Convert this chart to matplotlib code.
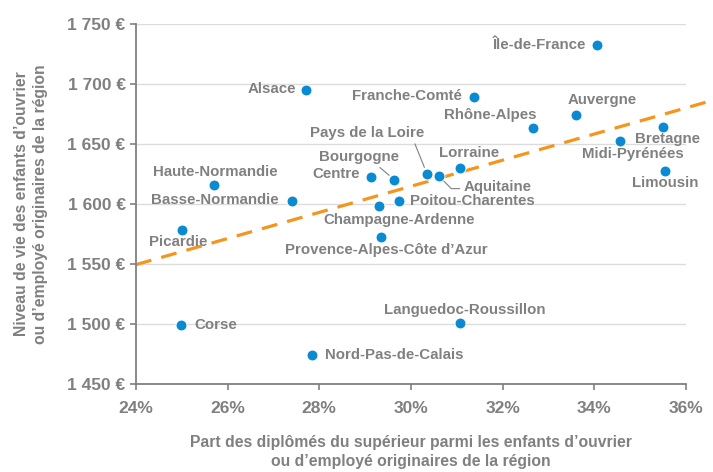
import matplotlib.pyplot as plt

plt.rcParams['font.family'] = ['Liberation Sans', 'DejaVu Sans']
plt.rcParams['font.weight'] = 'bold'

# data
regions = ['Île-de-France', 'Alsace', 'Franche-Comté', 'Auvergne', 'Rhône-Alpes',
           'Bretagne', 'Midi-Pyrénées', 'Limousin', 'Lorraine', 'Pays de la Loire',
           'Aquitaine', 'Bourgogne', 'Centre', 'Poitou-Charentes', 'Champagne-Ardenne',
           "Provence-Alpes-Côte d’Azur", 'Haute-Normandie', 'Basse-Normandie',
           'Picardie', 'Corse', 'Nord-Pas-de-Calais', 'Languedoc-Roussillon']
part_diplomes = [34.05, 27.71, 31.38, 33.59, 32.67,
                 35.49, 34.55, 35.54, 31.08, 30.35,
                 30.61, 29.64, 29.13, 29.73, 29.31,
                 29.35, 25.70, 27.41,
                 25.00, 24.99, 27.85, 31.08]
niveau_vie = [1732, 1695, 1689, 1674, 1663,
              1664, 1652, 1627, 1630, 1625,
              1623, 1620, 1622, 1602, 1598,
              1572, 1616, 1602,
              1578, 1499, 1474, 1501]

# trend line (start / end of the dashed line)
trend_x = [24.0, 36.6]
trend_y = [1549.4, 1686.4]

# label placement: (dx, dy) in pixels, horizontal alignment, leader line
label_pos = {
    'Île-de-France': (-11, 0, 'right', None),
    'Alsace': (-10, 1, 'right', None),
    'Franche-Comté': (-12, 1, 'right', None),
    'Auvergne': (27, 15, 'center', None),
    'Rhône-Alpes': (-43, 13, 'center', None),
    'Bretagne': (5, -12, 'center', None),
    'Midi-Pyrénées': (13, -13, 'center', None),
    'Limousin': (0, -12, 'center', None),
    'Lorraine': (9, 15, 'center', None),
    'Pays de la Loire': (-60, 41, 'center', ('arc3', (0.9, 0.1))),
    'Aquitaine': (59, -11, 'center', ('angle,angleA=0,angleB=-45,rad=0', (0.0, 0.4))),
    'Bourgogne': (-35, 23, 'center', ('arc3', (0.68, 0.1))),
    'Centre': (-11, 3, 'right', None),
    'Poitou-Charentes': (11, 0, 'left', None),
    'Champagne-Ardenne': (20, -14, 'center', None),
    "Provence-Alpes-Côte d’Azur": (5, -13, 'center', None),
    'Haute-Normandie': (1, 13, 'center', None),
    'Basse-Normandie': (-14, 1, 'right', None),
    'Picardie': (-4, -12, 'center', None),
    'Corse': (13, 0, 'left', None),
    'Nord-Pas-de-Calais': (13, 0, 'left', None),
    'Languedoc-Roussillon': (4, 13, 'center', None),
}

grey = '#808080'
blue = '#0a8ad2'
orange = '#f7941d'

fig = plt.figure(figsize=(7.13, 4.72), dpi=100)
ax = fig.add_axes([0.1907, 0.1864, 0.7714, 0.7634])

ax.scatter(part_diplomes, niveau_vie, s=62, color=blue, zorder=3,
           edgecolors='white', linewidths=0.7)
ax.plot(trend_x, trend_y, color=orange, lw=2.3, dashes=(5, 3.2), clip_on=False, zorder=2)

for name, x, y in zip(regions, part_diplomes, niveau_vie):
    dx, dy, ha, leader = label_pos[name]
    arrow = None
    if leader:
        conn, rel = leader
        arrow = dict(arrowstyle='-', color=grey, lw=0.8, connectionstyle=conn,
                     relpos=rel, shrinkA=1, shrinkB=5)
    ax.annotate(name, (x, y), xytext=(dx, dy), textcoords='offset pixels',
                ha=ha, va='center', fontsize=10.8, color=grey, fontweight='bold',
                arrowprops=arrow, zorder=4)

ax.set_xlim(24, 36)
ax.set_ylim(1450, 1750)
ax.set_xticks(range(24, 37, 2))
ax.set_xticklabels([f'{v}%' for v in range(24, 37, 2)])
yticks = list(range(1450, 1751, 50))
ax.set_yticks(yticks)
ax.set_yticklabels([f'{v // 1000} {v % 1000:03d} €' for v in yticks])

ax.grid(axis='y', color='#dcdcdc', lw=1)
ax.set_axisbelow(True)
for side in ['top', 'right']:
    ax.spines[side].set_visible(False)
for side in ['left', 'bottom']:
    ax.spines[side].set_color(grey)
    ax.spines[side].set_linewidth(1.3)
ax.tick_params(axis='both', colors=grey, labelsize=12.5, length=4, width=1.2)
ax.tick_params(axis='x', pad=8)

ax.set_xlabel('Part des diplômés du supérieur parmi les enfants d’ouvrier\n'
              'ou d’employé originaires de la région',
              fontsize=11.3, color=grey, fontweight='bold', labelpad=14, linespacing=1.35)
ax.set_ylabel('Niveau de vie des enfants d’ouvrier\n'
              'ou d’employé originaires de la région',
              fontsize=11.3, color=grey, fontweight='bold', labelpad=14, linespacing=1.3)

fig.savefig('out.png', dpi=100)
